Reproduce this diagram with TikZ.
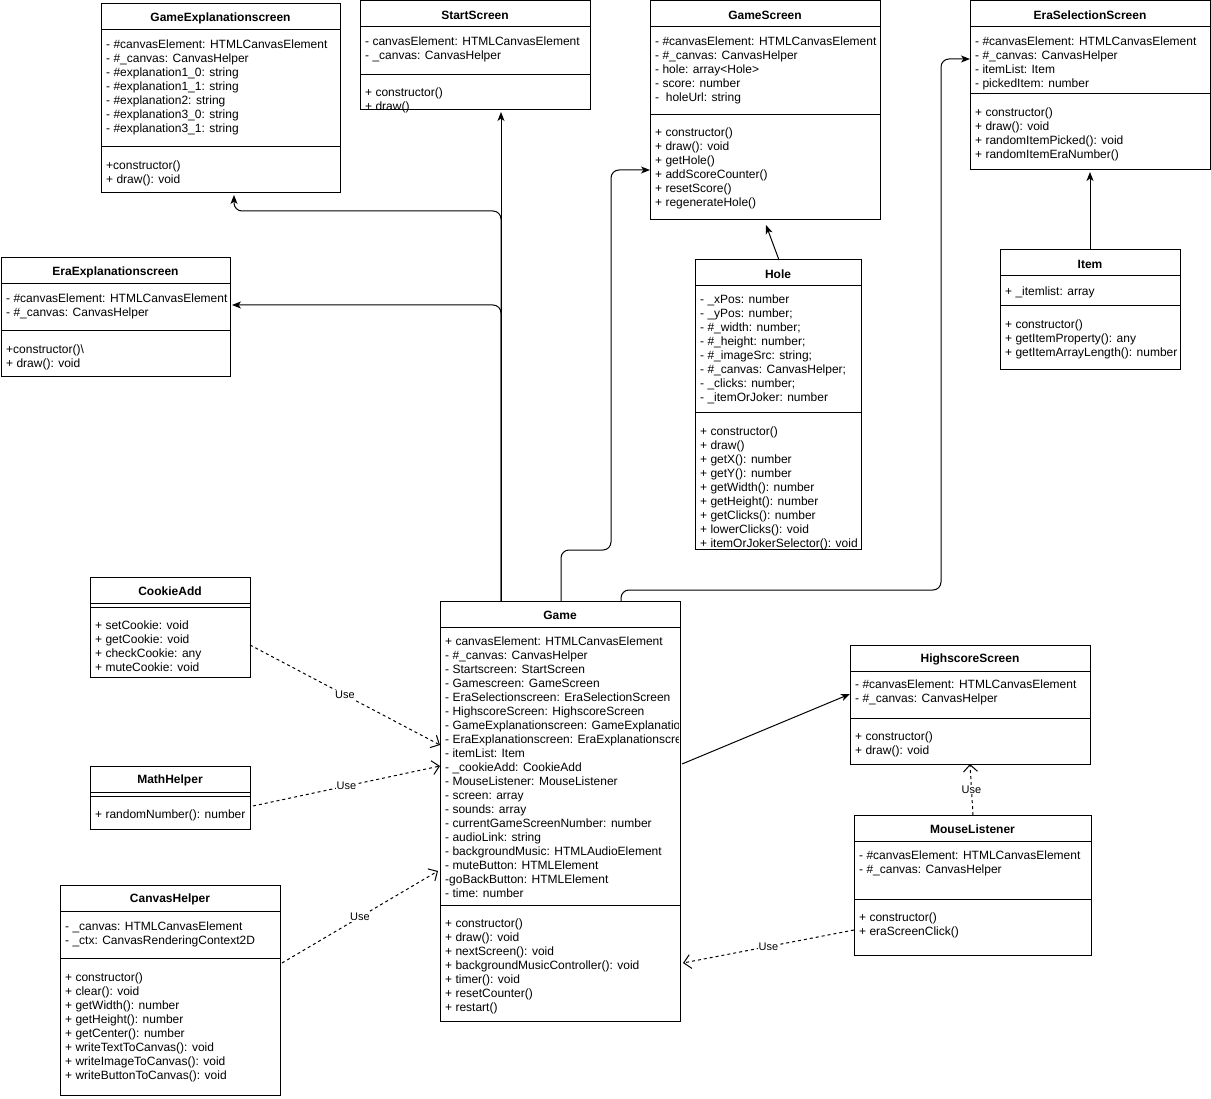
\documentclass[tikz,border=0pt]{standalone}
\usepackage{fontspec}
\setmainfont{Liberation Sans}
\usetikzlibrary{arrows.meta,calc}
\tikzset{
  clsbox/.style={draw, line width=1pt, anchor=north west, inner sep=0pt, outer sep=0pt},
  clstitle/.style={font=\fontsize{12}{14}\selectfont\bfseries, inner sep=0pt},
  clsline/.style={line width=1pt},
  members/.style={anchor=north west, inner sep=0pt, align=left, font=\fontsize{12}{14}\selectfont},
  assoc/.style={line width=1pt, -{Stealth[length=9pt,width=7pt,inset=2.5pt]}},
  usedep/.style={line width=1pt, dash pattern=on 3pt off 3pt, -{Straight Barb[length=7pt,width=14pt]}},
  uselabel/.style={font=\fontsize{11}{13}\selectfont, fill=white, inner sep=1pt}
}
\newcommand{\umlclass}[6]{%
  \node[clsbox, minimum width=#4pt, minimum height=#5pt] (#1) at (#2,#3) {};
  \node[clstitle] (#1-title) at ([yshift=-14pt]#1.north) {#6};
  \draw[clsline] ([yshift=-26pt]#1.north west) -- ([yshift=-26pt]#1.north east);
}
\newcommand{\umldiv}[2]{\draw[clsline] ([yshift=-#2pt]#1.north west) -- ([yshift=-#2pt]#1.north east);}
\newcommand{\umltext}[4]{\node[members] (#1-#2) at ([xshift=5pt,yshift={-(#3+1)*1pt}]#1.north west) {\strut #4};}
\begin{document}
\begin{tikzpicture}[x=1pt,y=-1pt]
\useasboundingbox (0,0) rectangle (1211,1099);
\fill[white] (0,0) rectangle (1211,1099);

% GameExplanationscreen
\umlclass{gameexpl}{101}{4}{239}{189}{GameExplanationscreen}
\umldiv{gameexpl}{143}
\umltext{gameexpl}{a}{33.5}{- \#canvasElement: HTMLCanvasElement\\- \#\_canvas: CanvasHelper\\- \#explanation1\_0: string\\- \#explanation1\_1: string\\- \#explanation2: string\\- \#explanation3\_0: string\\- \#explanation3\_1: string}
\umltext{gameexpl}{m}{154.5}{+constructor()\\+ draw(): void}

% StartScreen
\umlclass{start}{360}{1}{230}{109}{StartScreen}
\umldiv{start}{74}
\umltext{start}{a}{33.5}{- canvasElement: HTMLCanvasElement\\- \_canvas: CanvasHelper}
\umltext{start}{m}{84.5}{+ constructor()\\+ draw()}

% GameScreen
\umlclass{gamescreen}{650}{1}{230}{219}{GameScreen}
\umldiv{gamescreen}{114}
\umltext{gamescreen}{a}{33.5}{- \#canvasElement: HTMLCanvasElement\\- \#\_canvas: CanvasHelper\\- hole: array<Hole>\\- score: number\\-\ \ holeUrl: string}
\umltext{gamescreen}{m}{124.5}{+ constructor()\\+ draw(): void\\+ getHole()\\+ addScoreCounter()\\+ resetScore()\\+ regenerateHole()}

% EraSelectionScreen
\umlclass{erasel}{970}{1}{240}{169}{EraSelectionScreen}
\umldiv{erasel}{93}
\umltext{erasel}{a}{33.5}{- \#canvasElement: HTMLCanvasElement\\- \#\_canvas: CanvasHelper\\- itemList: Item\\- pickedItem: number}
\umltext{erasel}{m}{104.5}{+ constructor()\\+ draw(): void\\+ randomItemPicked(): void\\+ randomItemEraNumber()}

% EraExplanationscreen
\umlclass{eraexpl}{1}{258}{229}{119}{EraExplanationscreen}
\umldiv{eraexpl}{73}
\umltext{eraexpl}{a}{33.5}{- \#canvasElement: HTMLCanvasElement\\- \#\_canvas: CanvasHelper}
\umltext{eraexpl}{m}{84.5}{+constructor()\textbackslash\\+ draw(): void}

% Hole
\umlclass{hole}{695}{260}{166}{289}{Hole}
\umldiv{hole}{153}
\umltext{hole}{a}{32.5}{- \_xPos: number\\- \_yPos: number;\\- \#\_width: number;\\- \#\_height: number;\\- \#\_imageSrc: string;\\- \#\_canvas: CanvasHelper;\\- \_clicks: number;\\- \_itemOrJoker: number}
\umltext{hole}{m}{164.5}{+ constructor()\\+ draw()\\+ getX(): number\\+ getY(): number\\+ getWidth(): number\\+ getHeight(): number\\+ getClicks(): number\\+ lowerClicks(): void\\+ itemOrJokerSelector(): void}

% Item
\umlclass{item}{1000}{250}{180}{120}{Item}
\umldiv{item}{56}
\umltext{item}{a}{34.5}{+ \_itemlist: array}
\umltext{item}{m}{67.5}{+ constructor()\\+ getItemProperty(): any\\+ getItemArrayLength(): number}

% CookieAdd
\umlclass{cookie}{90}{577}{160}{100}{CookieAdd}
\umldiv{cookie}{30}
\umltext{cookie}{m}{41.5}{+ setCookie: void\\+ getCookie: void\\+ checkCookie: any\\+ muteCookie: void}

% MathHelper
\umlclass{math}{90}{766}{160}{63}{MathHelper}
\umldiv{math}{30}
\umltext{math}{m}{41.5}{+ randomNumber(): number}

% CanvasHelper
\umlclass{canvas}{60}{885}{220}{210}{CanvasHelper}
\umldiv{canvas}{73}
\umltext{canvas}{a}{34.5}{- \_canvas: HTMLCanvasElement\\- \_ctx: CanvasRenderingContext2D}
\umltext{canvas}{m}{85.5}{+ constructor()\\+ clear(): void\\+ getWidth(): number\\+ getHeight(): number\\+ getCenter(): number\\+ writeTextToCanvas(): void\\+ writeImageToCanvas(): void\\+ writeButtonToCanvas(): void}

% Game
\umlclass{game}{440}{601}{240}{420}{Game}
\umldiv{game}{304}
\begin{scope}
\clip (441,628) rectangle (678,904);
\umltext{game}{a}{33.5}{+ canvasElement: HTMLCanvasElement\\- \#\_canvas: CanvasHelper\\- Startscreen: StartScreen\\- Gamescreen: GameScreen\\- EraSelectionscreen: EraSelectionScreen\\- HighscoreScreen: HighscoreScreen\\- GameExplanationscreen: GameExplanationscreen\\- EraExplanationscreen: EraExplanationscreen\\- itemList: Item\\- \_cookieAdd: CookieAdd\\- MouseListener: MouseListener\\- screen: array\\- sounds: array\\- currentGameScreenNumber: number\\- audioLink: string\\- backgroundMusic: HTMLAudioElement\\- muteButton: HTMLElement\\-goBackButton: HTMLElement\\- time: number}
\end{scope}
\umltext{game}{m}{315.5}{+ constructor()\\+ draw(): void\\+ nextScreen(): void\\+ backgroundMusicController(): void\\+ timer(): void\\+ resetCounter()\\+ restart()}

% HighscoreScreen
\umlclass{hs}{850}{645}{240}{119}{HighscoreScreen}
\umldiv{hs}{73}
\umltext{hs}{a}{32.5}{- \#canvasElement: HTMLCanvasElement\\- \#\_canvas: CanvasHelper}
\umltext{hs}{m}{84.5}{+ constructor()\\+ draw(): void}

% MouseListener
\umlclass{ml}{854}{815}{237}{140}{MouseListener}
\umldiv{ml}{84}
\umltext{ml}{a}{33.5}{- \#canvasElement: HTMLCanvasElement\\- \#\_canvas: CanvasHelper}
\umltext{ml}{m}{95.5}{+ constructor()\\+ eraScreenClick()}

% ---------- connectors ----------
\coordinate (gA) at ($(game.north west)+(61,0)$);
\coordinate (gB) at ($(game.north west)+(121,0)$);
\coordinate (gC) at ($(game.north west)+(181,0)$);

\draw[assoc] (gA) -- ($(start.south west)+(141,2)$);
\draw[assoc, rounded corners=8pt] (gA) |- ($(eraexpl.north east)+(2,47)$);
\draw[assoc, rounded corners=8pt] (gA) |- ($(gameexpl.south west)+(133,18)$) -- ($(gameexpl.south west)+(133,2)$);
\coordinate (bend1) at (611,550);
\draw[assoc, rounded corners=8pt] (gB) |- (bend1) |- ($(gamescreen.north west)+(0,169)$);
\coordinate (bend2) at (941,590);
\draw[assoc, rounded corners=8pt] (gC) |- (bend2) |- ($(erasel.north west)+(0,58)$);
\draw[assoc] ($(hole.north west)+(84,0)$) -- ($(gamescreen.south west)+(116,5)$);
\draw[assoc] (item.north) -- ($(erasel.south west)+(120,2)$);
\draw[assoc] ($(game.north east)+(2,163)$) -- ($(hs.north west)+(0,49)$);

\draw[usedep] ($(ml.north west)+(119,0)$) -- node[uselabel] (u1) {Use} ($(hs.south west)+(120,0)$);
\draw[usedep] ($(ml.north west)+(0,115)$) -- node[uselabel] (u2) {Use} ($(game.north east)+(3,362)$);
\draw[usedep] ($(cookie.north east)+(0,68)$) -- node[uselabel] (u3) {Use} ($(game.north west)+(0,144)$);
\draw[usedep] ($(math.north east)+(3,40)$) -- node[uselabel] (u4) {Use} ($(game.north west)+(0,165)$);
\draw[usedep] ($(canvas.north east)+(2,78)$) -- node[uselabel] (u5) {Use} ($(game.north west)+(-2,270)$);
\end{tikzpicture}
\end{document}
